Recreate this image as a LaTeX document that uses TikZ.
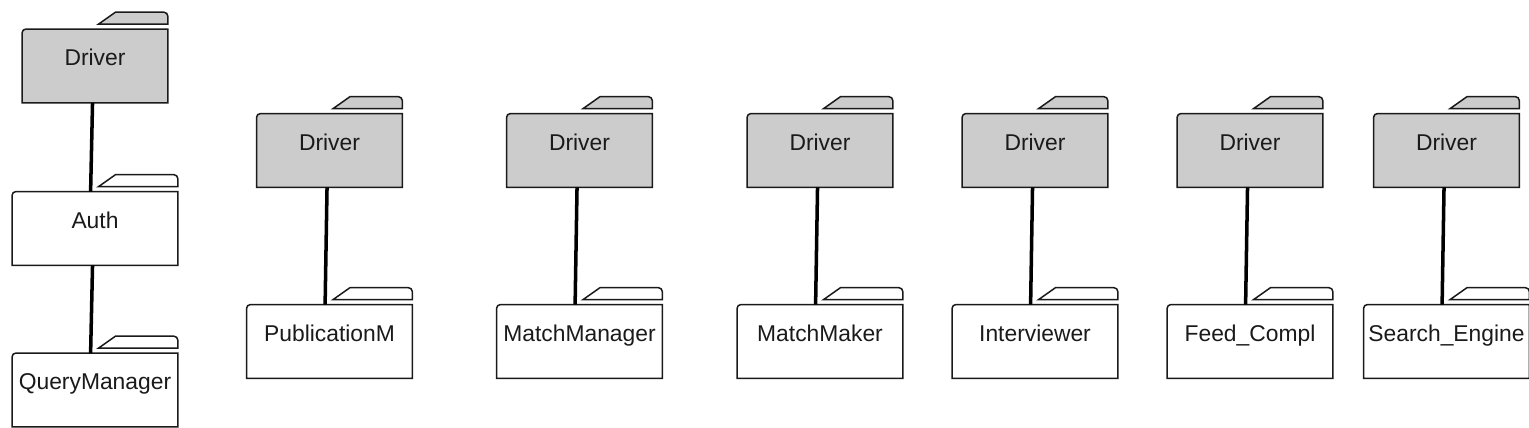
\documentclass[tikz,border=0pt]{standalone}
\usepackage{fontspec}
\setmainfont{Liberation Sans}
\usepackage{tikz}
\usepackage{xcolor}

\definecolor{drvgray}{RGB}{204,204,204}
\definecolor{ink}{RGB}{26,26,26}

\tikzset{
  pkgline/.style={draw=ink, line width=0.85pt},
  pkg/.style={inner sep=0pt, text height=0.73cm, text depth=0.73cm,
    minimum width=3.3cm, text=ink, font=\fontsize{13}{15}\selectfont},
  drv/.style={pkg, minimum width=2.9cm, fill=drvgray},
  link/.style={draw=black, line width=2pt}
}

% folder outline (top left corner rounded) and the tab above it
\newcommand{\pkgbody}[1]{%
  \draw[pkgline] (#1.south west) -- ([yshift=-0.07cm]#1.north west)
    to[out=90,in=180] ([xshift=0.07cm]#1.north west) -- (#1.north east)
    -- (#1.south east) -- cycle;}
\newcommand{\pkgtab}[2]{%
  \draw[pkgline, fill=#2] ([xshift=0.07cm,yshift=0.1cm]#1.north)
    -- ([xshift=0.41cm,yshift=0.34cm]#1.north)
    -- ([xshift=-0.08cm,yshift=0.34cm]#1.north east)
    to[out=0,in=90] ([yshift=0.26cm]#1.north east)
    -- ([yshift=0.1cm]#1.north east) -- cycle;}

\begin{document}
\begin{tikzpicture}[x=0.02cm, y=-0.02cm]
\useasboundingbox (0,0) rectangle (1529,428);

% first column: Driver, Auth, QueryManager
\node[drv] (drv0) at (95,66) {Driver};
\node[pkg] (auth) at (95,228.5) {Auth};
\node[pkg] (query) at (95,390) {QueryManager};
\pkgbody{drv0} \pkgtab{drv0}{drvgray}
\pkgbody{auth} \pkgtab{auth}{white}
\pkgbody{query} \pkgtab{query}{white}
\draw[link] ([xshift=-1.4pt]drv0.south) -- ([xshift=-2.5pt]auth.north);
\draw[link] ([xshift=-1.4pt]auth.south) -- ([xshift=-2.5pt]query.north);

% the other drivers, each with one package
\foreach \x/\lbl [count=\i] in {329.5/PublicationM, 579.5/MatchManager,
    820/MatchMaker, 1035/Interviewer, 1250/Feed\_Compl, 1446.5/Search\_Engine}
{
  \node[drv] (drv\i) at (\x,150.5) {Driver};
  \node[pkg] (pkg\i) at (\x,341.5) {\lbl};
  \pkgbody{drv\i} \pkgtab{drv\i}{drvgray}
  \pkgbody{pkg\i} \pkgtab{pkg\i}{white}
  \draw[link] ([xshift=-1.4pt]drv\i.south) -- ([xshift=-2.5pt]pkg\i.north);
}
\end{tikzpicture}
\end{document}
